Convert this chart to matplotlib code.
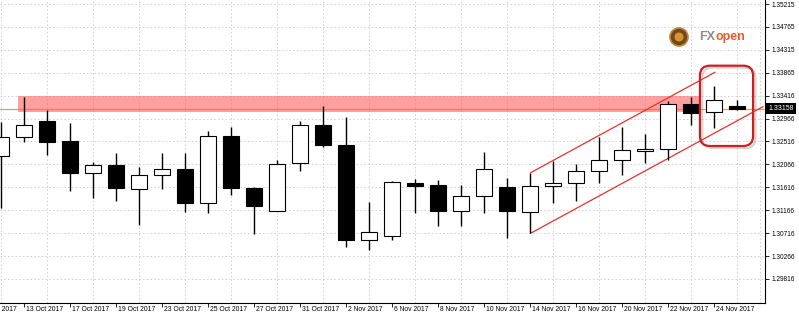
import matplotlib
matplotlib.use("Agg")
import matplotlib.pyplot as plt
from matplotlib.patches import Rectangle, FancyBboxPatch, Ellipse

plt.rcParams["font.family"] = ["Liberation Sans", "DejaVu Sans"]

# daily bars, 12 Oct - 27 Nov 2017
dates = ["12 Oct", "13 Oct", "16 Oct", "17 Oct", "18 Oct", "19 Oct", "20 Oct",
         "23 Oct", "24 Oct", "25 Oct", "26 Oct", "27 Oct", "30 Oct", "31 Oct",
         "1 Nov", "2 Nov", "3 Nov", "6 Nov", "7 Nov", "8 Nov", "9 Nov", "10 Nov",
         "13 Nov", "14 Nov", "15 Nov", "16 Nov", "17 Nov", "20 Nov", "21 Nov",
         "22 Nov", "23 Nov", "24 Nov", "27 Nov"]
opens = [1.32231, 1.32610, 1.32924, 1.32519, 1.31903, 1.32054, 1.31583, 1.31852,
         1.31970, 1.31314, 1.32617, 1.31608, 1.31157, 1.32087, 1.32833, 1.32452,
         1.30575, 1.30666, 1.31691, 1.31655, 1.31157, 1.31439, 1.31628, 1.31137,
         1.31651, 1.31695, 1.31936, 1.32146, 1.32329, 1.32374, 1.33246, 1.33089,
         1.33203]
highs = [1.32904, 1.33383, 1.33134, 1.32884, 1.32119, 1.32284, 1.32009, 1.32284,
         1.32284, 1.32727, 1.32806, 1.31615, 1.32152, 1.32912, 1.33218, 1.33002,
         1.31327, 1.31740, 1.31779, 1.31759, 1.31655, 1.32303, 1.31805, 1.31891,
         1.32138, 1.32074, 1.32610, 1.32794, 1.32663, 1.33311, 1.33395, 1.33611,
         1.33330]
lows = [1.31216, 1.32500, 1.32256, 1.31549, 1.31412, 1.31341, 1.30882, 1.31583,
        1.31137, 1.31117, 1.31459, 1.30699, 1.31150, 1.31936, 1.32413, 1.30438,
        1.30385, 1.30581, 1.31106, 1.30856, 1.30856, 1.31117, 1.30615, 1.30713,
        1.31302, 1.31353, 1.31706, 1.31864, 1.32099, 1.32152, 1.32839, 1.32786,
        1.33134]
closes = [1.32610, 1.32833, 1.32500, 1.31891, 1.32048, 1.31596, 1.31852, 1.31970,
          1.31314, 1.32617, 1.31596, 1.31255, 1.32068, 1.32833, 1.32452, 1.30575,
          1.30738, 1.31714, 1.31651, 1.31157, 1.31445, 1.31970, 1.31157, 1.31642,
          1.31691, 1.31942, 1.32152, 1.32348, 1.32368, 1.33246, 1.33069, 1.33324,
          1.33158]

# date labels every 2nd bar (first one is 11 Oct, just off the left edge)
label_pos = [-1] + list(range(1, 33, 2))
label_txt = ["11 Oct"] + [dates[i] for i in range(1, 33, 2)]

price_ticks = [1.35215, 1.34765, 1.34315, 1.33865, 1.33416, 1.32966, 1.32516,
               1.32066, 1.31616, 1.31166, 1.30716, 1.30266, 1.29816]
last_price = 1.33158

# resistance zone + trend channel
zone = (1.33101, 1.33415)
channel_top = ([23.03, 31.04], [1.31903, 1.33874])
channel_bot = ([23.03, 33.13], [1.30714, 1.33199])

W, H = 799, 317
fig = plt.figure(figsize=(W / 100, H / 100), dpi=100)
ax = fig.add_axes([0, 14 / H, 765 / W, 303 / H])
ax.set_xlim(-1 / 23, 764 / 23)
ax.set_ylim(1.29344, 1.35294)

# grid: every bar vertically, every price tick horizontally
ax.set_xticks(range(0, 34), minor=True)
ax.set_xticks([p for p in label_pos if p >= 0])
ax.set_xticklabels([])
ax.set_yticks(price_ticks)
ax.set_yticklabels([f"{p:.5f}" for p in price_ticks])
ax.grid(which="minor", axis="x", color="#cccccc", lw=0.6, ls=(0, (2, 2.5)))
ax.grid(which="major", axis="y", color="#cccccc", lw=0.6, ls=(0, (2, 2.5)))
ax.set_axisbelow(True)

ax.yaxis.tick_right()
ax.tick_params(axis="y", direction="out", length=3, width=0.6, labelsize=4.7, pad=1.5)
ax.tick_params(axis="x", which="major", direction="out", length=3, width=0.6)
ax.tick_params(axis="x", which="minor", length=0)
for s in ["left", "top"]:
    ax.spines[s].set_visible(False)
for s in ["right", "bottom"]:
    ax.spines[s].set_linewidth(0.8)

for p, t in zip(label_pos, label_txt):
    ax.text(p + 2.5 / 23, -0.021, t + " 2017", transform=ax.get_xaxis_transform(),
            ha="left", va="center", fontsize=4.9, clip_on=False)

# price line and zone
ax.axhline(last_price, color="#d7a06a", lw=0.9, zorder=1.5)
ax.add_patch(Rectangle((0.74, zone[0]), 30.39 - 0.74, zone[1] - zone[0],
                       facecolor="#ff6060", alpha=0.6, edgecolor="none", zorder=2))

# channel
ax.plot(*channel_top, color="#e8302a", lw=0.9, zorder=2.5)
ax.plot(*channel_bot, color="#e8302a", lw=0.9, zorder=2.5)

# candles
for i, (o, h, l, c) in enumerate(zip(opens, highs, lows, closes)):
    ax.vlines(i, l, h, color="black", lw=1, zorder=3)
    ax.bar(i, max(abs(c - o), 0.00004), bottom=min(o, c), width=0.7,
           color="white" if c >= o else "black", edgecolor="black", lw=0.8, zorder=4)

# highlight box around last two bars
aspect = 0.00019634 * 23
for dx, dy, col, a in [(0.1, -0.0004, "#888888", 0.35), (0, 0, "#cc2020", 1)]:
    ax.add_patch(FancyBboxPatch((30.39 + dx, 1.32427 + dy), 32.70 - 30.39, 1.34004 - 1.32427,
                                boxstyle="round,pad=0,rounding_size=0.43",
                                mutation_aspect=aspect, facecolor="none",
                                edgecolor=col, alpha=a, lw=1.6, zorder=5))

# last price tag
ax.text(1.0 + 3 / 765, last_price, f"{last_price:.5f}", transform=ax.get_yaxis_transform(),
        ha="left", va="center", fontsize=5, color="white", clip_on=False,
        bbox=dict(facecolor="black", edgecolor="none", pad=1.6))

# broker logo
fig.patches.append(Ellipse((679 / W, 1 - 37 / H), 18 / W, 18 / H, transform=fig.transFigure,
                           facecolor="#6b4a2a", edgecolor="#c9832f", lw=1.2))
fig.patches.append(Ellipse((679 / W, 1 - 37 / H), 9 / W, 9 / H, transform=fig.transFigure,
                           facecolor="#e0902a", edgecolor="none"))
fig.text(699 / W, 1 - 37 / H, "FX", color="#8c8c8c", fontsize=9, fontweight="bold",
         ha="left", va="center")
fig.text(716 / W, 1 - 37 / H, "open", color="#f05a28", fontsize=9, fontweight="bold",
         ha="left", va="center")

fig.savefig("out.png", dpi=100)
